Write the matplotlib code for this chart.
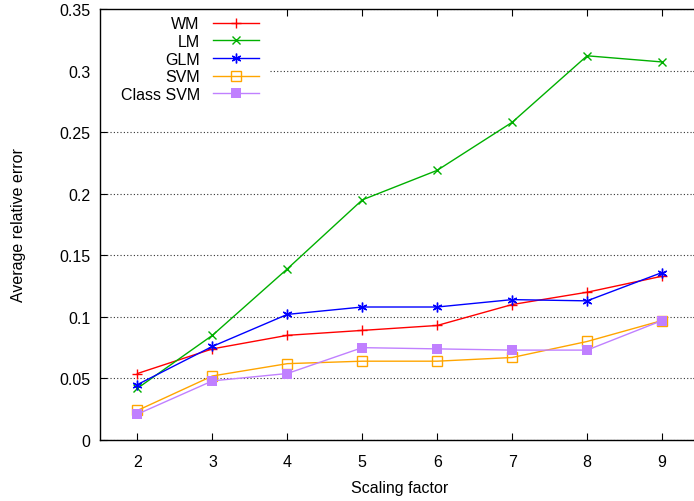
import matplotlib
matplotlib.use('Agg')
import matplotlib.pyplot as plt
from matplotlib.patches import Rectangle

plt.rcParams['font.family'] = ['Liberation Sans', 'DejaVu Sans']
plt.rcParams['font.size'] = 11

# data
scaling = [2, 3, 4, 5, 6, 7, 8, 9]
wm = [0.054, 0.074, 0.085, 0.089, 0.093, 0.110, 0.120, 0.133]
lm = [0.042, 0.085, 0.139, 0.195, 0.219, 0.258, 0.312, 0.307]
glm = [0.045, 0.076, 0.102, 0.108, 0.108, 0.114, 0.113, 0.136]
svm = [0.024, 0.052, 0.062, 0.064, 0.064, 0.067, 0.080, 0.097]
class_svm = [0.021, 0.048, 0.054, 0.075, 0.074, 0.073, 0.073, 0.097]
y_ticks = [0, 0.05, 0.1, 0.15, 0.2, 0.25, 0.3, 0.35]

W, H = 694, 502
fig = plt.figure(figsize=(W / 100, H / 100), dpi=100)
# gnuplot-style box; the right edge falls just outside the image
ax = fig.add_axes([100 / W, 61 / H, 599.5 / W, 431 / H])

ax.plot(scaling, wm, color='#ff0000', lw=1, marker='+', ms=7, mew=1, label='WM')
ax.plot(scaling, lm, color='#00b000', lw=1, marker='x', ms=6, mew=1, label='LM')
ax.plot(scaling, glm, color='#0000ff', lw=1, marker=(6, 2, 0), ms=7, mew=1, label='GLM')
ax.plot(scaling, svm, color='#ffa500', lw=1, marker='s', ms=7, mew=1,
        mfc='none', label='SVM')
ax.plot(scaling, class_svm, color='#c080ff', lw=1, marker='s', ms=6.5, mew=0,
        label='Class SVM')

ax.set_xlim(1.5, 9.5)
ax.set_ylim(0, 0.35)
ax.set_xticks(scaling)
ax.set_yticks(y_ticks)
ax.set_yticklabels(['0', '0.05', '0.1', '0.15', '0.2', '0.25', '0.3', '0.35'])
ax.tick_params(direction='in', top=True, right=True, length=5, width=0.8,
               labelsize=11.5, pad=7)
ax.tick_params(axis='x', pad=10)
ax.grid(axis='y', linestyle=(0, (1, 2)), color='#333333', lw=0.8)
ax.set_axisbelow(True)
for s in ax.spines.values():
    s.set_linewidth(1)

# key area blanks the grid behind it, as gnuplot does
ax.add_patch(Rectangle((0, 0.77), 0.283, 0.23, transform=ax.transAxes,
                       facecolor='white', edgecolor='none', zorder=1))

ax.set_xlabel('Scaling factor', fontsize=11.5, labelpad=8)
ax.set_ylabel('Average relative error', fontsize=11.5, labelpad=24)

leg = ax.legend(loc='upper left', bbox_to_anchor=(0.013, 1.013), markerfirst=False,
                frameon=False, handlelength=2.9, handletextpad=0.8,
                labelspacing=0.17, borderpad=0.3, fontsize=11.5)
for t in leg.get_texts():
    t.set_ha('right')

fig.savefig('out.png', dpi=100)
